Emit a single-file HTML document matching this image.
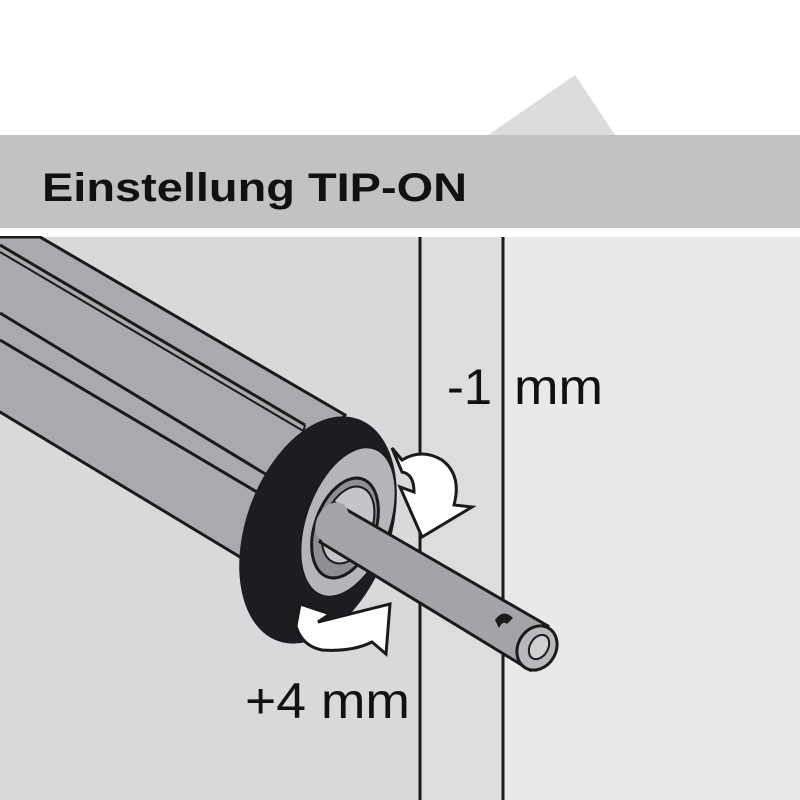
<!DOCTYPE html>
<html><head><meta charset="utf-8"><style>html,body{margin:0;padding:0;background:#fff}svg{display:block}</style></head>
<body>
<svg width="800" height="800" viewBox="0 0 800 800" xmlns="http://www.w3.org/2000/svg">
<rect width="800" height="800" fill="#fff"/>
<polygon points="488,135 575,75 615,135" fill="#dcdcdc"/>
<rect x="0" y="135" width="800" height="93" fill="#c1c2c4"/>
<text x="42" y="201" font-family="Liberation Sans, sans-serif" font-size="40" font-weight="bold" textLength="425" lengthAdjust="spacingAndGlyphs" fill="#111">Einstellung TIP-ON</text>
<rect x="0" y="237" width="420" height="563" fill="#d8d9db"/>
<rect x="420" y="237" width="83" height="563" fill="#dcdddf"/>
<rect x="503" y="237" width="297" height="563" fill="#e8e9eb"/>
<line x1="420" y1="237" x2="420" y2="800" stroke="#1a1a1a" stroke-width="3"/>
<line x1="503" y1="237" x2="503" y2="800" stroke="#1a1a1a" stroke-width="3"/>
<text x="447" y="404" font-family="Liberation Sans, sans-serif" font-size="50" textLength="45" lengthAdjust="spacingAndGlyphs" fill="#111">-1</text>
<text x="514" y="404" font-family="Liberation Sans, sans-serif" font-size="50" textLength="89" lengthAdjust="spacingAndGlyphs" fill="#111">mm</text>
<text x="245" y="718" font-family="Liberation Sans, sans-serif" font-size="50" textLength="165" lengthAdjust="spacingAndGlyphs" fill="#111">+4 mm</text>
<!-- housing -->
<polygon points="-10,237 40,237 345,415 245,560 -10,406" fill="#a9aaad" stroke="#1a1a1a" stroke-width="3"/>
<rect x="0" y="229" width="60" height="7" fill="#fff"/>
<line x1="0" y1="245" x2="305" y2="425" stroke="#1a1a1a" stroke-width="3"/>
<line x1="0" y1="252" x2="305" y2="432" stroke="#1a1a1a" stroke-width="2"/>
<line x1="305" y1="425" x2="300" y2="445" stroke="#1a1a1a" stroke-width="2"/>
<line x1="0" y1="313" x2="272" y2="478" stroke="#1a1a1a" stroke-width="3"/>
<line x1="0" y1="340" x2="262" y2="495" stroke="#1a1a1a" stroke-width="3"/>
<!-- ring -->
<ellipse cx="318" cy="530" rx="72" ry="118" transform="rotate(20 318 530)" fill="#1c1d20"/>
<ellipse cx="348" cy="522" rx="42" ry="78" transform="rotate(20 348 522)" fill="#b5b6b9" stroke="#1a1a1a" stroke-width="2"/>
<ellipse cx="345" cy="528" rx="30" ry="52" transform="rotate(20 345 528)" fill="#8e8f92" stroke="#1a1a1a" stroke-width="3"/>
<ellipse cx="348" cy="525" rx="24" ry="40" transform="rotate(20 348 525)" fill="#c4c5c8" stroke="#1a1a1a" stroke-width="2"/>
<!-- rod -->
<polygon points="335,503 548,626 530,670 320,542" fill="#a3a4a7" stroke="#1a1a1a" stroke-width="3"/>
<ellipse cx="332" cy="522" rx="15" ry="21" transform="rotate(30 332 522)" fill="#a3a4a7"/>
<ellipse cx="537" cy="648" rx="19" ry="23" transform="rotate(30 537 648)" fill="#b8b9bc" stroke="#1a1a1a" stroke-width="3"/>
<ellipse cx="539" cy="647" rx="9" ry="13" transform="rotate(30 539 647)" fill="#d0d1d3" stroke="#1a1a1a" stroke-width="2"/>
<path d="M495,620 q8,-12 18,-2 l-6,6 q-4,-4 -8,4 z" fill="#1a1a1a"/>
<!-- arrows -->
<path d="M392,448 l10,12 q20,-12 40,0 q20,15 12,45 l18,2 l-50,30 l-22,-50 l14,5 q0,-18 -12,-20 z" fill="#fff" stroke="#1a1a1a" stroke-width="3"/>
<path d="M300,604 l30,10 l-12,8 l72,-18 l-4,50 l-14,-12 q-20,10 -50,8 q-20,-4 -26,-24 z" fill="#fff" stroke="#1a1a1a" stroke-width="3"/>
</svg>
</body></html>
